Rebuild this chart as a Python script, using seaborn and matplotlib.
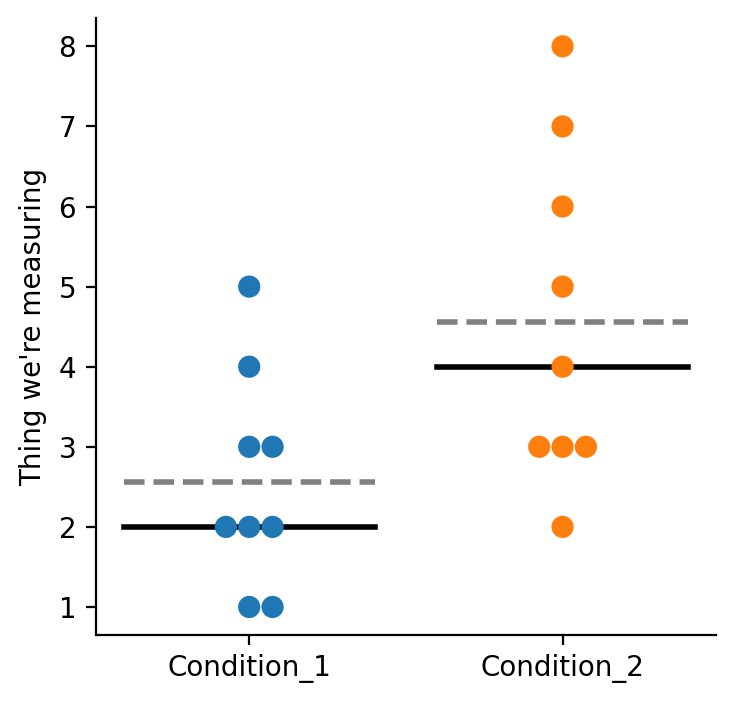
import numpy as np
import pandas as pd
import seaborn as sns
import matplotlib.pyplot as plt

condition_1 = [1, 1, 2, 2, 2, 3, 3, 4, 5]
condition_2 = [2, 3, 3, 3, 4, 5, 6, 7, 8]
categories = ["Condition_1", "Condition_2"]

df = pd.DataFrame({
    "condition": [categories[0]] * len(condition_1) + [categories[1]] * len(condition_2),
    "value": condition_1 + condition_2,
})

fig, ax = plt.subplots(figsize=(3.68, 3.52), dpi=200)
fig.subplots_adjust(left=0.130, right=0.973, top=0.974, bottom=0.098)

sns.swarmplot(data=df, x="condition", y="value", hue="condition", size=8, ax=ax, legend=False)

# mirror the swarm around each category so extra points sit on the left, like the original
for coll in ax.collections:
    offs = coll.get_offsets()
    if len(offs):
        center = np.round(np.median(offs[:, 0]))
        offs[:, 0] = 2 * center - offs[:, 0]
        coll.set_offsets(offs)

# median (solid) and mean (dashed) per condition
for i, cat in enumerate(categories):
    vals = df.loc[df["condition"] == cat, "value"]
    ax.plot([i - 0.4, i + 0.4], [vals.median()] * 2, color="black", lw=2, zorder=0)
    ax.plot([i - 0.4, i + 0.4], [vals.mean()] * 2, color="gray", lw=2, ls="--", zorder=0)

ax.set_xlabel("")
ax.set_ylabel("Thing we're measuring")
sns.despine()
plt.savefig("out.png", dpi=200)
